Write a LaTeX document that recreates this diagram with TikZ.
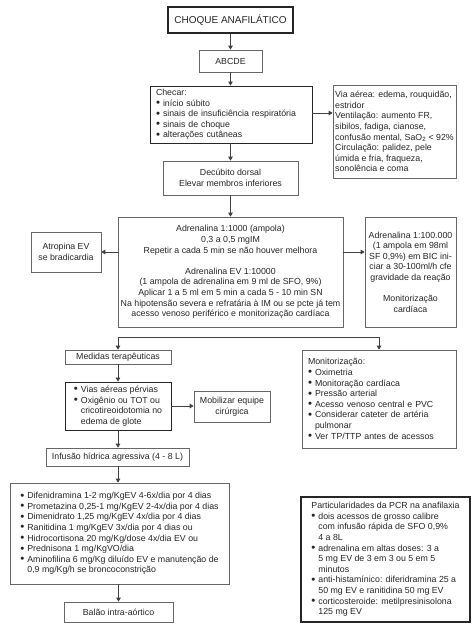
\documentclass[tikz,border=0pt]{standalone}
\usepackage{fontspec}
\setmainfont{Liberation Sans}
\usetikzlibrary{arrows.meta,shadows}
\newcommand{\bl}[1]{\makebox[7pt][l]{\raisebox{-0.4pt}{\scalebox{1.3}{•}}}#1}
\newcommand{\ct}[1]{\hspace*{7pt}#1}
\begin{document}
\begin{tikzpicture}[x=1pt,y=-1pt,
  box/.style={draw=black!60, line width=0.7pt, fill=white, inner xsep=2pt, inner ysep=0pt,
    align=center, text=black!85, font=\fontsize{8.8}{10.6}\selectfont,
    drop shadow={shadow xshift=0.7pt, shadow yshift=-0.7pt, fill=black!35, opacity=1}},
  darkbox/.style={box, draw=black!85, line width=0.9pt},
  thickbox/.style={box, draw=black!85, line width=1.7pt},
  line/.style={draw=black!75, line width=0.8pt},
  arr/.style={line, -{Triangle[width=4.5pt,length=4pt]}}]
\useasboundingbox (0,0) rectangle (474,635);
\fill[white] (0,0) rectangle (474,635);

\node[thickbox, minimum width=125pt, minimum height=26pt] (choque) at (230.5,20)
  {\fontsize{10}{12}\selectfont CHOQUE ANAFILÁTICO};
\node[box, minimum width=63pt, minimum height=22pt] (abcde) at (230.5,61) {ABCDE};
\node[darkbox, align=left, inner xsep=6pt, text width=150pt, minimum height=57pt] (checar) at (231,114.5)
  {Checar:\\ \bl{início súbito}\\ \bl{sinais de insuficiência respiratória}\\ \bl{sinais de choque}\\ \bl{alterações cutâneas}};
\node[box, align=left, minimum width=123pt, minimum height=93pt] (via) at (394.5,131.5)
  {Via aérea: edema, rouquidão,\\ estridor\\ Ventilação: aumento FR,\\ sibilos, fadiga, cianose,\\
   confusão mental, SaO\textsubscript{2} < 92\%\\ Circulação: palidez, pele\\ úmida e fria, fraqueza,\\ sonolência e coma};
\node[box, minimum width=135pt, minimum height=34pt] (decub) at (230.5,178)
  {Decúbito dorsal\\ Elevar membros inferiores};
\node[box, inner xsep=1pt, minimum width=225pt, minimum height=110pt] (adr) at (230.5,272)
  {Adrenalina 1:1000 (ampola)\\ 0,3 a 0,5 mgIM\\ Repetir a cada 5 min se não houver melhora\\[10.6pt]
   Adrenalina EV 1:10000\\ (1 ampola de adrenalina em 9 ml de SFO, 9\%)\\ Aplicar 1 a 5 ml em 5 min a cada 5 - 10 min SN\\
   Na hipotensão severa e refratária à IM ou se pcte já tem\\ acesso venoso periférico e monitorização cardíaca};
\node[box, minimum width=70pt, minimum height=40pt] (atrop) at (66,252) {Atropina EV\\ se bradicardia};
\node[box, inner xsep=1pt, minimum width=91pt, minimum height=110pt] (adr2) at (410.5,272)
  {Adrenalina 1:100.000\\ (1 ampola em 98ml\\ SF 0,9\%) em BIC ini-\\ ciar a 30-100ml/h cfe\\ gravidade da reação\\[10.6pt]
   Monitorização\\ cardíaca};
\node[box, minimum width=106pt, minimum height=14pt] (med) at (118,357) {Medidas terapêuticas};
\node[box, align=left, inner xsep=6pt, text width=142pt, minimum height=98pt] (mon) at (379,399)
  {Monitorização:\\ \bl{Oximetria}\\ \bl{Monitoração cardíaca}\\ \bl{Pressão arterial}\\ \bl{Acesso venoso central e PVC}\\
   \bl{Considerar cateter de artéria}\\ \ct{pulmonar}\\ \bl{Ver TP/TTP antes de acessos}};
\node[darkbox, align=left, minimum width=106pt, minimum height=48pt] (vias) at (118,406)
  {\bl{Vias aéreas pérvias}\\ \bl{Oxigênio ou TOT ou}\\ \ct{cricotireoidotomia no}\\ \ct{edema de glote}};
\node[box, minimum width=76pt, minimum height=31pt] (mob) at (232,406.5) {Mobilizar equipe\\ cirúrgica};
\node[box, minimum width=143pt, minimum height=18pt] (inf) at (117.5,457) {Infusão hídrica agressiva (4 - 8 L)};
\node[box, align=left, minimum width=219pt, minimum height=101pt] (list) at (119.5,533.5)
  {\bl{Difenidramina 1-2 mg/KgEV 4-6x/dia por 4 dias}\\ \bl{Prometazina 0,25-1 mg/KgEV 2-4x/dia por 4 dias}\\
   \bl{Dimenidrato 1,25 mg/KgEV 4x/dia por 4 dias}\\ \bl{Ranitidina 1 mg/KgEV 3x/dia por 4 dias ou}\\
   \bl{Hidrocortisona 20 mg/Kg/dose 4x/dia EV ou}\\ \bl{Prednisona 1 mg/KgVO/dia}\\
   \bl{Aminofilina 6 mg/Kg diluído EV e manutenção de}\\ \ct{0,9 mg/Kg/h se broncoconstrição}};
\node[box, minimum width=109pt, minimum height=20pt] (balao) at (118.5,612) {Balão intra-aórtico};
\node[thickbox, line width=1.5pt, align=left, minimum width=169pt, minimum height=125pt] (part) at (385.5,559.5)
  {Particularidades da PCR na anafilaxia\\ \bl{dois acessos de grosso calibre}\\ \ct{com infusão rápida de SFO 0,9\%}\\ \ct{4 a 8L}\\
   \bl{adrenalina em altas doses: 3 a}\\ \ct{5 mg EV de 3 em 3 ou 5 em 5}\\ \ct{minutos}\\
   \bl{anti-histamínico: diferidramina 25 a}\\ \ct{50 mg EV e ranitidina 50 mg EV}\\
   \bl{corticosteroide: metilpresinisolona}\\ \ct{125 mg EV}};

\draw[arr] (choque.south) -- (abcde.north);
\draw[arr] (abcde.south) -- (abcde.south |- checar.north);
\draw[arr] (checar.south -| decub.north) -- (decub.north);
\draw[arr] (decub.south) -- (adr.north);
\draw[arr] (checar.east |- 0,113) -- (via.west |- 0,113);
\draw[arr] (adr.west |- atrop.east) -- (atrop.east);
\draw[arr] (adr.east |- atrop.east) -- (adr2.west |- atrop.east);
\coordinate (sl) at (118,337);
\coordinate (sr) at (379,337);
\draw[line] (sl) -- (sr);
\draw[arr] (sl) -- (sl |- med.north);
\draw[arr] (sr) -- (sr |- mon.north);
\draw[arr] (med.south) -- (vias.north);
\draw[arr] (vias.east) -- (mob.west |- vias.east);
\draw[arr] (vias.south) -- (vias.south |- inf.north);
\draw[arr] (inf.south -| vias.south) -- (vias.south |- list.north);
\draw[arr] (list.south -| balao.north) -- (balao.north);
\end{tikzpicture}
\end{document}
